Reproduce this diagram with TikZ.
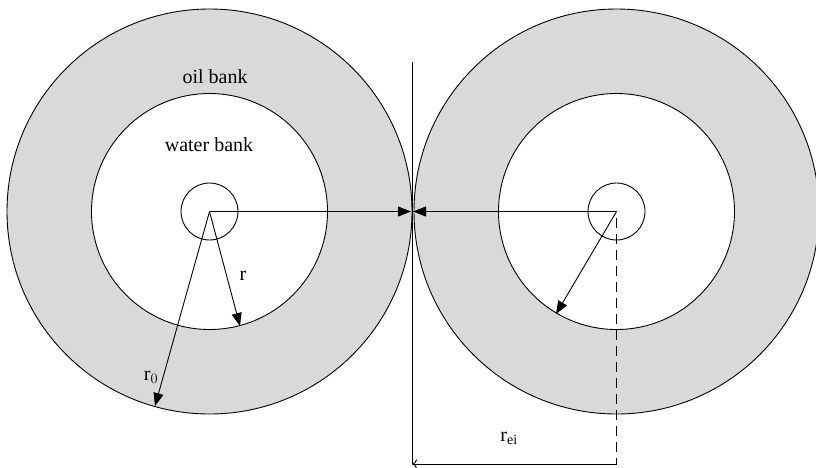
\documentclass[tikz,border=0pt]{standalone}
\usepackage{fontspec}
\setmainfont{Liberation Serif}
\usetikzlibrary{arrows.meta}
\definecolor{bankgray}{RGB}{217,217,217}
\tikzset{
  ln/.style={line width=0.9pt, black},
  rad/.style={ln, -{Triangle[length=13pt,width=10pt]}},
  lbl/.style={font=\fontsize{20}{22}\selectfont, inner sep=0pt}
}
\begin{document}
\begin{tikzpicture}[x=1pt,y=-1pt]
\useasboundingbox (0,0) rectangle (816,467);
\coordinate (cL) at (209.5,211.5);
\coordinate (cR) at (616.5,211.5);
% banks
\fill[bankgray] (cL) circle (202.5);
\fill[bankgray] (cR) circle (202.5);
\draw[ln] (cL) circle (202.5);
\draw[ln] (cR) circle (202.5);
\draw[ln, fill=white] (cL) circle (118);
\draw[ln, fill=white] (cR) circle (118);
\draw[ln] (cL) circle (28.5);
\draw[ln] (cR) circle (28.5);
% contact line
\coordinate (vt) at (412,62);
\coordinate (vb) at (412,464);
\coordinate (tipL) at (411,211.5);
\coordinate (tipR) at (413,211.5);
\draw[ln] (vt) -- (vb);
\draw[rad] (cL) -- (tipL);
\draw[rad] (cR) -- (tipR);
% radii
\coordinate (rtip) at (240,326);
\coordinate (r0tip) at (155,406);
\coordinate (rrtip) at (556,314);
\draw[rad] (cL) -- (rtip);
\draw[rad] (cL) -- (r0tip);
\draw[rad] (cR) -- (rrtip);
% r_ei dimension
\coordinate (db) at (616.5,464);
\draw[ln, dashed, dash pattern=on 10pt off 6pt] (cR) ++(0,6) -- (db);
\draw[ln, -{To[length=5pt,width=9pt]}] (db) -- (vb);
% labels
\node[lbl] (oil) at (215,77) {oil bank};
\node[lbl] (water) at (209,145) {water bank};
\node[lbl] (r) at (243,276) {r};
\node[lbl] (r0) at (151,377) {r$_0$};
\node[lbl] (rei) at (509,438) {r$_{\mathrm{ei}}$};
\end{tikzpicture}
\end{document}
